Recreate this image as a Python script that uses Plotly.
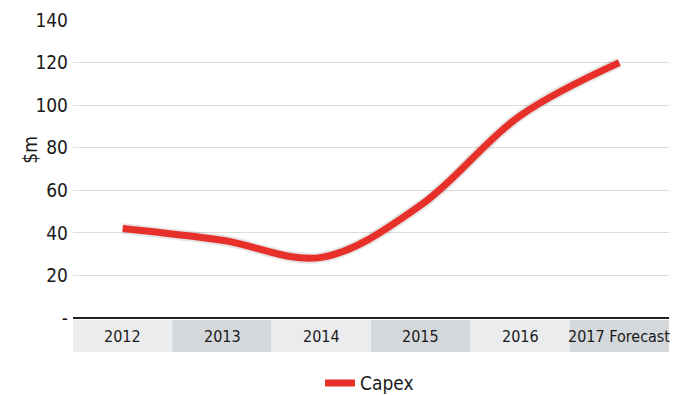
import plotly.graph_objects as go

categories = ["2012", "2013", "2014", "2015", "2016", "2017 Forecast"]
capex = [42, 36.5, 28.5, 53, 95, 120]
y_ticks = [0, 20, 40, 60, 80, 100, 120, 140]
y_ticktext = ["-", "20", "40", "60", "80", "100", "120", "140"]
band_colors = ["#ebecee", "#d5d8da"]

FONT = "DejaVu Sans Condensed, Liberation Sans Narrow, sans-serif"

x_idx = list(range(len(categories)))

fig = go.Figure()
fig.add_trace(go.Scatter(
    x=x_idx, y=capex, mode="lines", line=dict(color="rgba(0,0,0,0.10)", width=11, shape="spline", smoothing=1.0),
    showlegend=False, hoverinfo="skip"))
fig.add_trace(go.Scatter(
    x=x_idx, y=capex, mode="lines", name="Capex",
    line=dict(color="#e8302a", width=7, shape="spline", smoothing=1.0)))

shapes = []
annotations = []
for i, c in enumerate(categories):
    shapes.append(dict(type="rect", xref="x", yref="paper", x0=i - 0.5, x1=i + 0.5,
                       y0=-0.114, y1=-0.007, fillcolor=band_colors[i % 2], line=dict(width=0), layer="below"))
    annotations.append(dict(x=i, y=-0.061, xref="x", yref="paper", text=c, showarrow=False,
                            font=dict(family=FONT, size=16, color="#1a1a1a"), xanchor="center", yanchor="middle"))
annotations.append(dict(x=-0.072, y=0.565, xref="paper", yref="paper", text="$m", showarrow=False,
                        textangle=-90, font=dict(family=FONT, size=19, color="#1a1a1a"),
                        xanchor="center", yanchor="middle"))

fig.update_layout(
    width=678, height=395,
    margin=dict(l=73, r=9, t=20, b=77, autoexpand=False),
    paper_bgcolor="white", plot_bgcolor="white",
    shapes=shapes, annotations=annotations,
    xaxis=dict(range=[-0.5, 5.5], showgrid=False, showticklabels=False, zeroline=False,
               showline=False, fixedrange=True),
    yaxis=dict(range=[0, 140], tickvals=y_ticks, ticktext=y_ticktext, showgrid=True,
               gridcolor="#dcdcdc", gridwidth=1, zeroline=True, zerolinecolor="#222222", zerolinewidth=2,
               tickfont=dict(family=FONT, size=19, color="#1a1a1a"), ticks="", ticklabelstandoff=4),
    legend=dict(orientation="h", x=0.545, xanchor="center", xref="container",
                y=0.03, yanchor="middle", yref="container",
                font=dict(family=FONT, size=19, color="#1a1a1a"), itemwidth=30),
    showlegend=True,
)

fig.write_html("out.html")
